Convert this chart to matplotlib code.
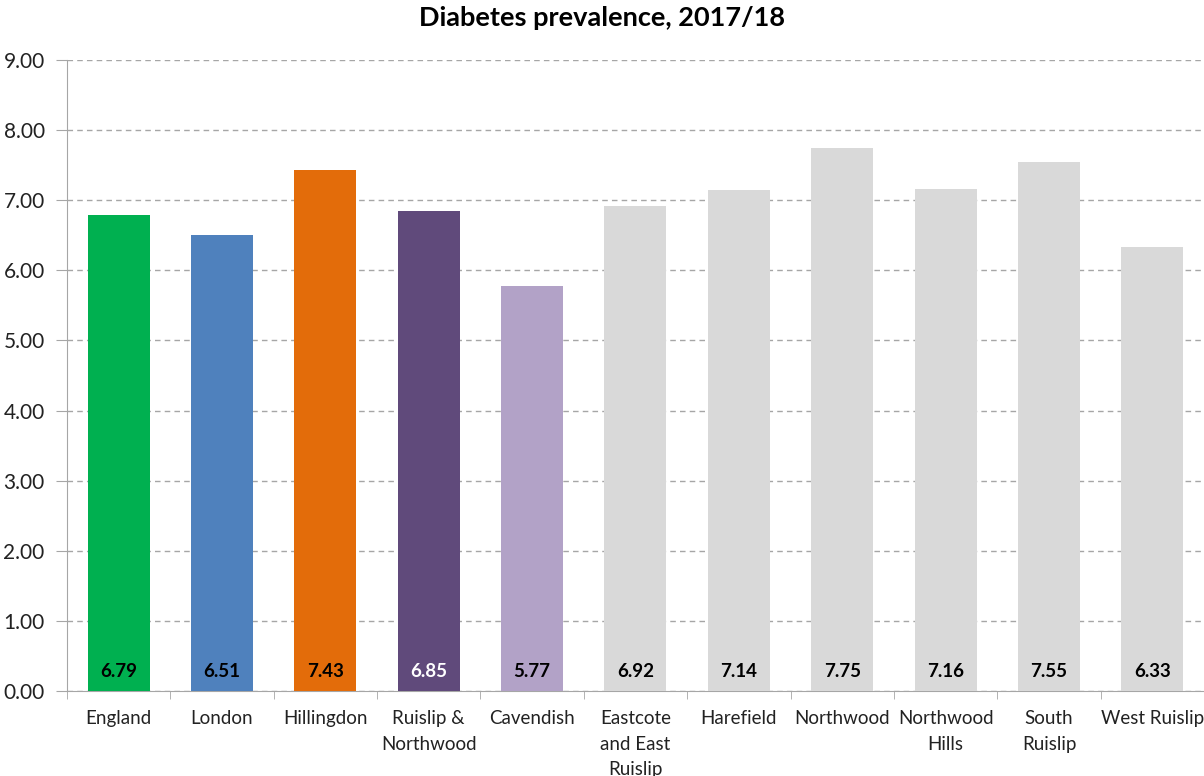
import numpy as np
import matplotlib
matplotlib.use("Agg")
import matplotlib.pyplot as plt
from matplotlib.ticker import FormatStrFormatter, FixedLocator

# Données (prévalence du diabète, 2017/18)
areas = ["England", "London", "Hillingdon", "Ruislip &\nNorthwood", "Cavendish",
         "Eastcote\nand East\nRuislip", "Harefield", "Northwood", "Northwood\nHills",
         "South\nRuislip", "West Ruislip"]
values = [6.79, 6.51, 7.43, 6.85, 5.77, 6.92, 7.14, 7.75, 7.16, 7.55, 6.33]
bar_colors = ["#00B050", "#4F81BD", "#E36C0A", "#604A7B", "#B2A2C7",
              "#D9D9D9", "#D9D9D9", "#D9D9D9", "#D9D9D9", "#D9D9D9", "#D9D9D9"]
label_colors = ["black", "black", "black", "white", "black",
                "black", "black", "black", "black", "black", "black"]

plt.rcParams["font.family"] = ["Lato", "DejaVu Sans"]

fig = plt.figure(figsize=(12.04, 7.76), dpi=100)
ax = fig.add_axes([0.0556, 0.1095, 0.9444, 0.8132])

x = np.arange(len(areas))
ax.bar(x, values, width=0.6, color=bar_colors, zorder=3)

# étiquettes de valeur en bas des barres
for xi, v, c in zip(x, values, label_colors):
    ax.annotate(f"{v:.2f}", xy=(xi, 0), xytext=(0, 14), textcoords="offset points",
                ha="center", va="center", fontsize=13.5, fontweight="bold", color=c,
                zorder=4)

ax.set_xlim(-0.5, len(areas) - 0.5)
ax.set_ylim(0, 9)
ax.set_yticks(np.arange(0, 9.01, 1))
ax.yaxis.set_major_formatter(FormatStrFormatter("%.2f"))
ax.grid(axis="y", linestyle=(0, (4, 3)), color="#A6A6A6", linewidth=1, zorder=0)

ax.set_xticks(x)
ax.set_xticklabels(areas, fontsize=13.5, color="#222222", linespacing=1.6, va="top")
ax.xaxis.set_minor_locator(FixedLocator(np.arange(-0.5, len(areas), 1)))
ax.tick_params(axis="x", which="major", length=0, pad=14)
ax.tick_params(axis="x", which="minor", length=6, color="#A6A6A6")
ax.tick_params(axis="y", length=8, color="#A6A6A6", labelsize=15, labelcolor="#222222",
               pad=8)

for s in ["top", "right"]:
    ax.spines[s].set_visible(False)
for s in ["left", "bottom"]:
    ax.spines[s].set_color("#A6A6A6")

fig.text(0.5, 0.977, "Diabetes prevalence, 2017/18", ha="center", va="center",
         fontsize=19.5, fontweight="bold")

fig.savefig("out.png", dpi=100)
